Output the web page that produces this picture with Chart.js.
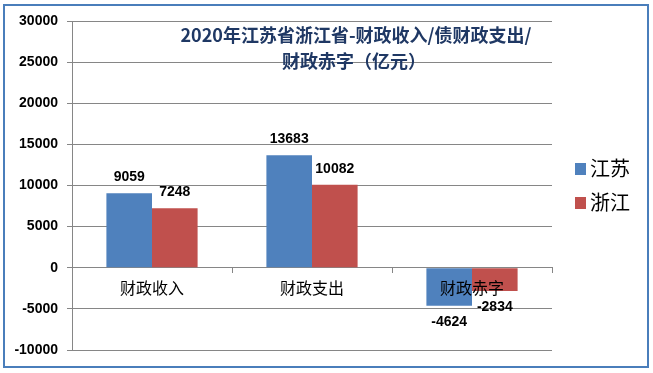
<!DOCTYPE html>
<html>
<head>
<meta charset="utf-8">
<script src="https://cdn.jsdelivr.net/npm/chart.js@4"></script>
<style>
html,body{margin:0;padding:0;background:#fff;}
#frame{position:absolute;left:3px;top:4px;width:646px;height:364px;box-sizing:border-box;border:2px solid #4A7EBB;}
#c{position:absolute;left:0;top:0;}
</style>
</head>
<body>
<div id="frame"></div>
<canvas id="c" width="653" height="373"></canvas>
<script>
const categories = ['财政收入', '财政支出', '财政赤字'];
const jiangsu = [9059, 13683, -4624];
const zhejiang = [7248, 10082, -2834];
const seriesNames = ['江苏', '浙江'];
const seriesColors = ['#4F81BD', '#C0504D'];
const titleLines = ['2020年江苏省浙江省-财政收入/债财政支出/', '财政赤字（亿元）'];
const yMin = -10000, yMax = 30000, yStep = 5000;

const CJK = '"Noto Sans CJK SC", "Noto Sans", sans-serif';

const titlePlugin = {
  id: 'titleOverlay',
  afterDraw(chart) {
    const ctx = chart.ctx;
    ctx.save();
    ctx.fillStyle = '#1F3864';
    ctx.font = 'bold 18px ' + CJK;
    ctx.textAlign = 'center';
    ctx.textBaseline = 'middle';
    ctx.fillText(titleLines[0], 356, 35);
    ctx.fillText(titleLines[1], 354, 61);
    ctx.restore();
  }
};

const legendPlugin = {
  id: 'sideLegend',
  afterDraw(chart) {
    const ctx = chart.ctx;
    ctx.save();
    chart.data.datasets.forEach((ds, i) => {
      const y = 169 + i * 34;
      ctx.fillStyle = ds.backgroundColor;
      ctx.fillRect(575, y - 6, 11, 12);
      ctx.fillStyle = '#000';
      ctx.font = '20px ' + CJK;
      ctx.textAlign = 'left';
      ctx.textBaseline = 'middle';
      ctx.fillText(ds.label, 590, y - 1);
    });
    ctx.restore();
  }
};

const valueLabels = {
  id: 'valueLabels',
  afterDatasetsDraw(chart) {
    const ctx = chart.ctx;
    ctx.save();
    ctx.fillStyle = '#000';
    ctx.font = 'bold 14px "Liberation Sans", Arial, sans-serif';
    ctx.textAlign = 'center';
    ctx.textBaseline = 'middle';
    chart.data.datasets.forEach((ds, di) => {
      const meta = chart.getDatasetMeta(di);
      meta.data.forEach((el, i) => {
        const v = ds.data[i];
        const y = v >= 0 ? el.y - 16 : el.y + 16;
        ctx.fillText(String(v), el.x, y);
      });
    });
    ctx.restore();
  }
};

new Chart(document.getElementById('c'), {
  type: 'bar',
  data: {
    labels: categories,
    datasets: [
      { label: seriesNames[0], data: jiangsu, backgroundColor: seriesColors[0] },
      { label: seriesNames[1], data: zhejiang, backgroundColor: seriesColors[1] }
    ]
  },
  options: {
    responsive: false,
    devicePixelRatio: 1,
    animation: false,
    layout: { padding: { top: 21, bottom: 23, left: 0, right: 101 } },
    datasets: { bar: { categoryPercentage: 0.57, barPercentage: 1.0 } },
    plugins: { legend: { display: false }, title: { display: false }, tooltip: { enabled: false } },
    scales: {
      x: {
        position: { y: 0 },
        afterFit(s) { s.height = 0; },
        grid: { drawOnChartArea: false, drawTicks: true, tickLength: 5, color: '#868686', offset: true },
        border: { display: true, color: '#868686' },
        ticks: { z: 1, color: '#000', padding: 6, font: { family: CJK, size: 16 } }
      },
      y: {
        min: yMin, max: yMax,
        afterFit(s) { s.width = 72; },
        grid: { color: '#868686', tickLength: 5, drawTicks: true },
        border: { display: true, color: '#868686' },
        ticks: {
          stepSize: yStep, color: '#000', padding: 9,
          callback: (v) => String(v),
          font: { family: '"Liberation Sans", Arial, sans-serif', size: 14, weight: 'bold' }
        }
      }
    }
  },
  plugins: [valueLabels, titlePlugin, legendPlugin]
});
</script>
</body>
</html>
